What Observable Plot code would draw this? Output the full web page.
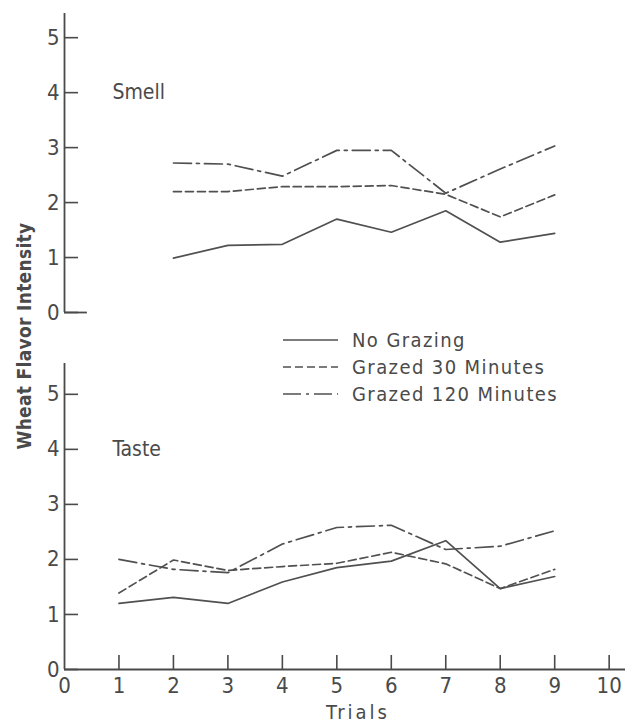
<!DOCTYPE html>
<html><head><meta charset="utf-8">
<script src="https://cdn.jsdelivr.net/npm/d3@7"></script>
<script src="https://cdn.jsdelivr.net/npm/@observablehq/plot@0.6"></script>
<style>
html,body{margin:0;padding:0;background:#fff;}
#wrap{position:relative;width:625px;height:724px;overflow:hidden;}
#top{position:absolute;left:0;top:0;}
#bottom{position:absolute;left:0;top:330px;}
#overlay{position:absolute;left:0;top:0;}
</style></head>
<body><div id="wrap"><div id="top"></div><div id="bottom"></div><svg id="overlay" width="625" height="724"></svg></div>
<script>
// ---- data ----
const series = ["No Grazing", "Grazed 30 Minutes", "Grazed 120 Minutes"];
const smellTrials = [2, 3, 4, 5, 6, 7, 8, 9];
const smellNoGrazing = [0.99, 1.22, 1.24, 1.70, 1.46, 1.85, 1.28, 1.44];
const smellGrazed30 = [2.20, 2.20, 2.29, 2.29, 2.31, 2.15, 1.74, 2.14];
const smellGrazed120 = [2.72, 2.70, 2.48, 2.95, 2.95, 2.17, 2.61, 3.03];
const tasteTrials = [1, 2, 3, 4, 5, 6, 7, 8, 9];
const tasteNoGrazing = [1.20, 1.31, 1.20, 1.59, 1.85, 1.97, 2.34, 1.47, 1.69];
const tasteGrazed30 = [1.39, 1.99, 1.80, 1.87, 1.93, 2.13, 1.92, 1.47, 1.82];
const tasteGrazed120 = [2.00, 1.82, 1.76, 2.28, 2.58, 2.62, 2.18, 2.24, 2.52];
const yTicks = [0, 1, 2, 3, 4, 5];
const xTickLabels = [0, 1, 2, 3, 4, 5, 6, 7, 8, 9, 10];
const xTickMarks = [1, 2, 3, 4, 5, 6, 7, 8, 9, 10];
const panelLabels = ["Smell", "Taste"];
const yLabel = "Wheat Flavor Intensity";
const xLabel = "Trials";

// ---- styling ----
const fontFamily = '"Liberation Sans Narrow","DejaVu Sans Condensed","Liberation Sans",sans-serif';
const ink = "#4a4a4a";
const lineInk = "#505050";
const dashes = {"No Grazing": null, "Grazed 30 Minutes": "8,4", "Grazed 120 Minutes": "18,5,3,5"};
const xMax = 10.3;
const fmt = d3.format("d");

function rowsOf(trials, arrays) {
  const out = [];
  arrays.forEach((vals, i) => vals.forEach((v, j) => out.push({trial: trials[j], value: v, series: series[i]})));
  return out;
}
const smellRows = rowsOf(smellTrials, [smellNoGrazing, smellGrazed30, smellGrazed120]);
const tasteRows = rowsOf(tasteTrials, [tasteNoGrazing, tasteGrazed30, tasteGrazed120]);

function panel({rows, label, height, marginTop, marginBottom, yMax, bottom}) {
  const marks = [
    Plot.ruleX([0], {stroke: ink, strokeWidth: 1.8}),
    Plot.axisY(yTicks, {tickSize: -14, fill: "none", stroke: ink, strokeWidth: 1.6}),
    Plot.axisY(yTicks, {tickSize: 0, tickPadding: 5, fill: ink, fontSize: 22, tickFormat: fmt, label: null}),
    Plot.text([label], {x: 0.88, y: 4, text: d => d, textAnchor: "start", fill: ink, fontSize: 21, style: "letter-spacing:2px"}),
  ];
  if (bottom) {
    marks.push(
      Plot.ruleY([0], {stroke: ink, strokeWidth: 1.8}),
      Plot.axisX(xTickMarks, {tickSize: -14, fill: "none", stroke: ink, strokeWidth: 1.6}),
      Plot.axisX(xTickLabels, {tickSize: 0, tickPadding: 8, fill: ink, fontSize: 22, tickFormat: fmt, label: null})
    );
  } else {
    marks.push(Plot.ruleY([0], {x1: 0, x2: 0.42, stroke: ink, strokeWidth: 1.8}));
  }
  for (const s of series) {
    marks.push(Plot.line(rows.filter(d => d.series === s), {
      x: "trial", y: "value", stroke: lineInk, strokeWidth: 1.7,
      strokeDasharray: dashes[s], strokeLinejoin: "round"
    }));
  }
  return Plot.plot({
    width: 625, height, marginLeft: 64, marginRight: 0, marginTop, marginBottom,
    x: {domain: [0, xMax], axis: null},
    y: {domain: [0, yMax], axis: null},
    style: {fontFamily, background: "transparent", color: ink, overflow: "visible"},
    marks
  });
}

document.getElementById("top").append(panel({rows: smellRows, label: panelLabels[0], height: 330, marginTop: 13, marginBottom: 18, yMax: 5.44, bottom: false}));
document.getElementById("bottom").append(panel({rows: tasteRows, label: panelLabels[1], height: 394, marginTop: 33, marginBottom: 55, yMax: 5.56, bottom: true}));

// ---- legend, axis titles ----
const ov = d3.select("#overlay").style("font-family", fontFamily);
const legendY = [340, 367, 394];
series.forEach((s, i) => {
  ov.append("line").attr("x1", 283).attr("x2", 338).attr("y1", legendY[i]).attr("y2", legendY[i])
    .attr("stroke", lineInk).attr("stroke-width", 1.7).attr("stroke-dasharray", dashes[s]);
  ov.append("text").attr("x", 352).attr("y", legendY[i]).attr("dy", "0.36em")
    .attr("fill", ink).attr("font-size", 20).style("letter-spacing", "1.4px").text(s);
});
ov.append("text").attr("transform", "translate(24,336) rotate(-90)").attr("text-anchor", "middle").attr("dy", "0.36em")
  .attr("fill", ink).attr("font-size", 19).attr("font-weight", "bold").style("letter-spacing", "0.3px").text(yLabel);
ov.append("text").attr("x", 358).attr("y", 712).attr("text-anchor", "middle").attr("dy", "0.36em")
  .attr("fill", ink).attr("font-size", 20).style("letter-spacing", "3px").text(xLabel);
</script>
</body></html>
